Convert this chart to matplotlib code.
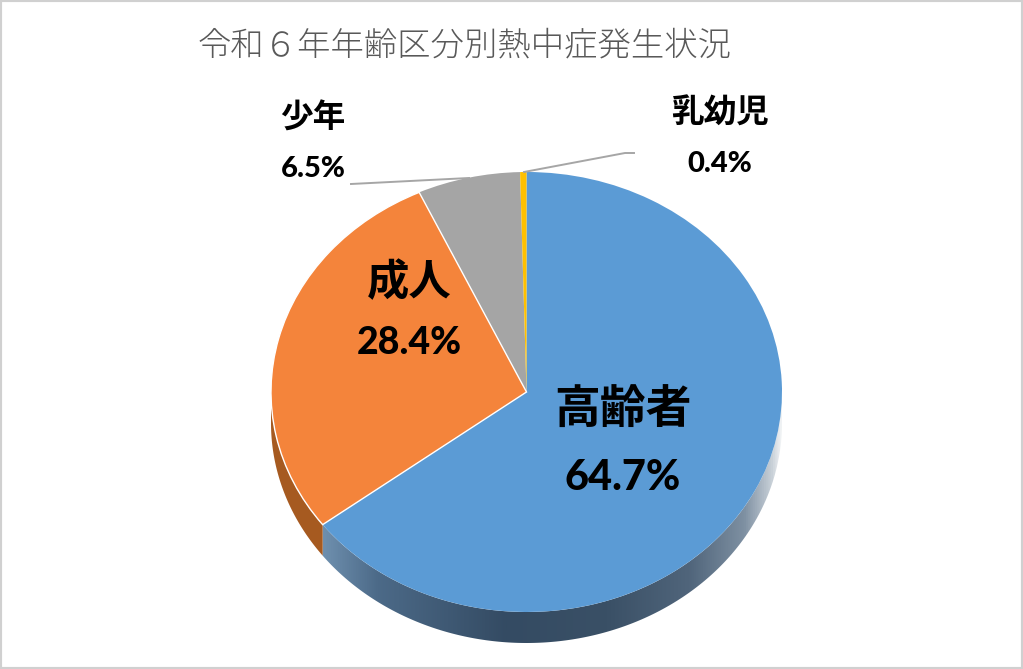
import matplotlib
matplotlib.use("Agg")
import numpy as np
import matplotlib.pyplot as plt
from matplotlib.colors import LinearSegmentedColormap
from matplotlib.patches import Polygon, Rectangle
from matplotlib.transforms import Affine2D

categories = ["高齢者", "成人", "少年", "乳幼児"]
values = [64.7, 28.4, 6.5, 0.4]
colors = ["#5B9BD5", "#F4843B", "#A5A5A5", "#FFC000"]
title = "令和６年年齢区分別熱中症発生状況"

W, H = 1023, 669
fig = plt.figure(figsize=(W / 100, H / 100), dpi=100, facecolor="white")
ax = fig.add_axes([0, 0, 1, 1])
px = Affine2D().scale(1, -1).translate(0, H)  # pixel coords, y down

cx, cy, rx, ry, depth = 526.5, 392.0, 255.5, 220.0, 31.0
dz = depth / ry

def side_poly(t1, t2):
    t = np.radians(np.linspace(t1, t2, 200))
    x, y = np.cos(t), np.sin(t)
    return np.r_[np.c_[x, y], np.c_[x[::-1], y[::-1] - dz]]

fr = np.cumsum(values) / sum(values)
a_blue_end = 90 - 360 * fr[0]

# extruded sides
side_blue = Polygon(side_poly(0, a_blue_end), closed=True, fc="none", ec="none", transform=ax.transData)
ax.add_patch(side_blue)
cmap = LinearSegmentedColormap.from_list("side", [
    (0.0, "#6F90AF"), (0.12, "#4C6A88"), (0.40, "#344B63"), (0.62, "#3A5066"),
    (0.80, "#50657B"), (0.92, "#7E90A2"), (0.98, "#C8D0D8"), (1.0, "#F0F2F4")])
img = ax.imshow(np.linspace(0, 1, 512)[None, :], cmap=cmap, aspect="auto",
                extent=[(322 - cx) / rx, (782 - cx) / rx, -1.3, 1.2], zorder=1)
img.set_clip_path(side_blue)

ax.add_patch(Polygon(side_poly(a_blue_end, -180), closed=True, fc="#A65A20", ec="none", zorder=1))

# top face
wedges, _ = ax.pie(values, colors=colors, startangle=90, counterclock=False, radius=1)
for w, z, lw in zip(wedges, [2, 4, 3, 3], [0, 1.0, 0, 0]):
    w.set_zorder(z)
    w.set_edgecolor("white" if lw else "none")
    w.set_linewidth(lw)

ax.set_aspect("auto")
ax.set_xlim(-cx / rx, (W - cx) / rx)
ax.set_ylim(-(H - cy) / ry, cy / ry)
ax.axis("off")

# leader lines (pixel coordinates)
for xs, ys in [([351, 469], [184, 178]), ([524, 625, 634], [172, 153, 153])]:
    ax.plot(xs, ys, color="#A6A6A6", lw=1.4, transform=px, zorder=5, clip_on=False)

JP = ["Noto Sans CJK JP", "DejaVu Sans"]
NUM = ["Lato", "DejaVu Sans"]
label_pos = [(623, 411, 33.0, 623, 478), (409, 283, 30.5, 409, 343),
             (313, 118, 23.5, 313, 169), (720, 113, 23.5, 720, 164)]
pct_size = [30, 27, 21, 21]
for name, v, (x1, y1, fs, x2, y2), ps in zip(categories, values, label_pos, pct_size):
    ax.text(x1, y1, name, transform=px, ha="center", va="center", family=JP,
            fontweight="bold", fontsize=fs, color="black", zorder=6)
    ax.text(x2, y2, f"{v}%", transform=px, ha="center", va="center", family=NUM,
            fontweight="black", fontsize=ps, color="black", zorder=6)

ax.text(465, 46, title, transform=px, ha="center", va="center", family=JP,
        fontweight="light", fontsize=24, color="#595959", zorder=6)

fig.add_artist(Rectangle((0, 0), 1, 1, transform=fig.transFigure, fc="none", ec="#D0D0D0", lw=3))
fig.savefig("out.png", dpi=100, facecolor="white")
